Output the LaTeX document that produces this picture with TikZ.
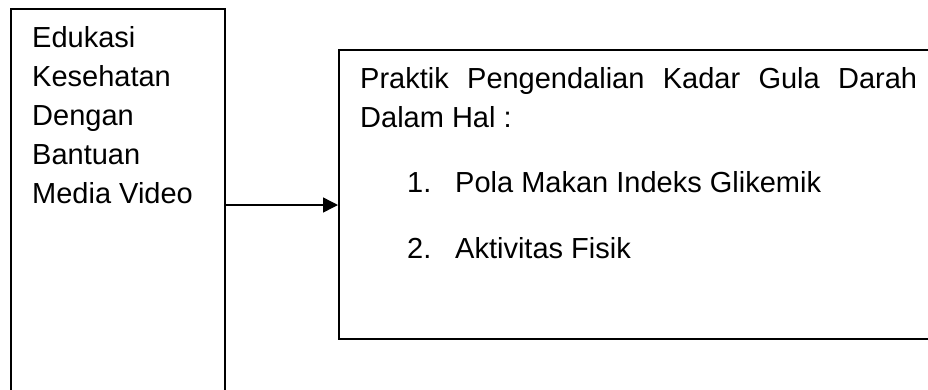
\documentclass[tikz,border=0pt]{standalone}
\usepackage{fontspec}
\setmainfont{Liberation Sans}
\usetikzlibrary{arrows.meta}
\begin{document}
\begin{tikzpicture}[x=1pt,y=1pt,
  box/.style={draw=black, line width=1.5pt, inner sep=0pt},
  txt/.style={anchor=base west, inner sep=0pt, font=\fontsize{29}{39}\selectfont},
  conn/.style={line width=1.5pt, -{Triangle[length=15pt,width=15pt]}}]
\useasboundingbox (0,0) rectangle (928,-389);
\clip (0,0) rectangle (928,-389);
\fill[white] (0,0) rectangle (928,-389);
% boxes
\node[box, minimum width=214pt, minimum height=420pt, anchor=north west] (L) at (10,-8) {};
\node[box, minimum width=620pt, minimum height=289pt, anchor=north west] (R) at (338,-49) {};
% left text
\node[txt] (l1) at (32,-47) {Edukasi};
\node[txt] (l2) at (32,-86) {Kesehatan};
\node[txt] (l3) at (32,-125) {Dengan};
\node[txt] (l4) at (32,-164) {Bantuan};
\node[txt] (l5) at (32,-203) {Media Video};
% right text
\node[txt] (r1) at (360,-88) {\makebox[557pt][s]{Praktik Pengendalian Kadar Gula Darah}};
\node[txt] (r2) at (360,-127) {Dalam Hal :};
\node[txt] (n1) at (407,-192) {1.};
\node[txt] (i1) at (455,-192) {Pola Makan Indeks Glikemik};
\node[txt] (n2) at (407,-258) {2.};
\node[txt] (i2) at (455,-258) {Aktivitas Fisik};
% connector
\coordinate (ay) at (0,-205);
\draw[conn] (L.east |- ay) -- (R.west |- ay);
\end{tikzpicture}
\end{document}
